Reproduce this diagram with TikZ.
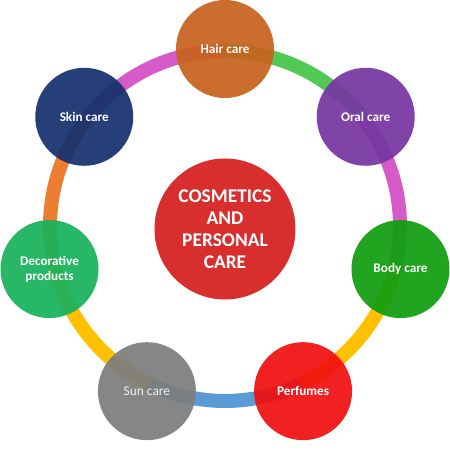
\documentclass[tikz,border=0pt]{standalone}
\usepackage{fontspec}
\setmainfont{Carlito}
\definecolor{cphub}{HTML}{D82E2E}
\definecolor{cphair}{HTML}{C7621C}
\definecolor{cporal}{HTML}{7636A2}
\definecolor{cpbody}{HTML}{109E10}
\definecolor{cpperf}{HTML}{F01010}
\definecolor{cpsun}{HTML}{7D7D7D}
\definecolor{cpdeco}{HTML}{18B25A}
\definecolor{cpskin}{HTML}{15306E}
\definecolor{rgreen}{HTML}{52C954}
\definecolor{rpink}{HTML}{D65BC8}
\definecolor{ramber}{HTML}{FFC000}
\definecolor{rblue}{HTML}{5B9BD5}
\definecolor{rorange}{HTML}{ED7D31}

\begin{document}
\begin{tikzpicture}[
    x=1pt, y=1pt,
    ring/.style={line width=14pt, shift={(0,3)}},
    item/.style={circle, minimum size=98pt, inner sep=0pt, align=center,
                 fill opacity=0.93, text opacity=1, text=white,
                 font=\fontsize{13.2}{15}\selectfont\bfseries},
    hub/.style={circle, minimum size=141pt, inner sep=0pt, align=center,
                text=white, font=\fontsize{19.4}{22}\selectfont\bfseries}
  ]

  % ---- Canvas ----
  \useasboundingbox (-225,-221) rectangle (225,229);

  % ---- Positions on the ring ----
  \coordinate (O) at (0,0);
  \coordinate (pHair) at (90:180);
  \coordinate (pOral) at (38.57:180);
  \coordinate (pBody) at (-12.86:180);
  \coordinate (pPerf) at (-64.29:180);
  \coordinate (pSun)  at (-115.71:180);
  \coordinate (pDeco) at (-167.14:180);
  \coordinate (pSkin) at (141.43:180);

  % ---- Ring segments ----
  \draw[ring, rgreen]  (90:175)      arc[start angle=90,     end angle=38.57,   radius=175];
  \draw[ring, rpink]   (38.57:175)   arc[start angle=38.57,  end angle=-12.86,  radius=175];
  \draw[ring, ramber]  (-12.86:175)  arc[start angle=-12.86, end angle=-64.29,  radius=175];
  \draw[ring, rblue]   (-64.29:175)  arc[start angle=-64.29, end angle=-115.71, radius=175];
  \draw[ring, ramber]  (244.29:175)  arc[start angle=244.29, end angle=192.86,  radius=175];
  \draw[ring, rorange] (192.86:175)  arc[start angle=192.86, end angle=141.43,  radius=175];
  \draw[ring, rpink]   (141.43:175)  arc[start angle=141.43, end angle=90,      radius=175];

  % ---- Centre ----
  \node[hub, fill=cphub] (hub) at (O) {COSMETICS\\AND\\PERSONAL\\CARE};

  % ---- Outer items ----
  \node[item, fill=cphair] (hair) at (pHair) {Hair care};
  \node[item, fill=cporal] (oral) at (pOral) {Oral care};
  \node[item, fill=cpbody] (body) at (pBody) {Body care};
  \node[item, fill=cpperf] (perf) at (pPerf) {Perfumes};
  \node[item, fill=cpsun, font=\fontsize{13.4}{15}\selectfont, text=white!95!black]
    (sun) at (pSun) {Sun care};
  \node[item, fill=cpdeco] (deco) at (pDeco) {Decorative\\products};
  \node[item, fill=cpskin] (skin) at (pSkin) {Skin care};

\end{tikzpicture}
\end{document}
